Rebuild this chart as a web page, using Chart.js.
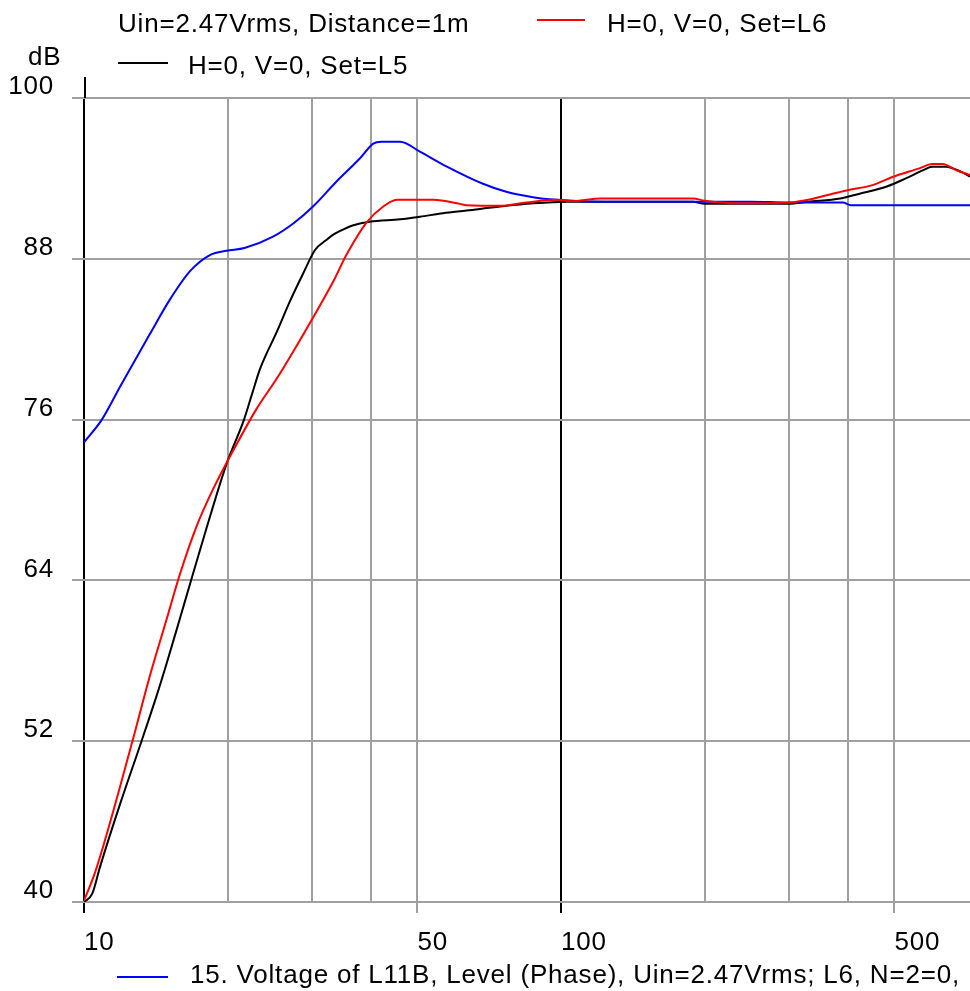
<!DOCTYPE html>
<html>
<head>
<meta charset="utf-8">
<script src="https://cdn.jsdelivr.net/npm/chart.js@4.4.0/dist/chart.umd.min.js"></script>
<style>
  html, body { margin: 0; padding: 0; background: #fff; overflow: hidden; }
  canvas { display: block; }
</style>
</head>
<body>
<canvas id="spl" width="970" height="991"></canvas>
<script>
// Set L6, H=0 V=0
const freqL6 = [10, 10.5, 11.0, 11.9, 12.7, 13.75, 14.9, 15.9, 17.2, 18.7, 20.2, 23.0, 25.4, 27.9, 30.2, 33.3, 35.5, 39.1, 42.4, 45.3, 54, 61.4, 63.4, 74.5, 84.6, 98, 106, 121, 189, 200, 240, 302, 330, 366, 397, 450, 495, 564, 600, 630, 675, 720];
const levelL6 = [40.1, 42.0, 44.3, 48.6, 52.3, 56.9, 61.1, 64.5, 68.0, 70.9, 73.2, 76.8, 79.1, 81.5, 83.6, 86.3, 88.3, 90.7, 91.9, 92.4, 92.4, 92.1, 92.0, 91.95, 92.2, 92.4, 92.3, 92.5, 92.5, 92.34, 92.14, 92.2, 92.4, 92.8, 93.1, 93.5, 94.1, 94.75, 95.07, 95.07, 94.6, 94.25];

// Set L5, H=0 V=0
const freqL5 = [10, 10.4, 10.8, 11.9, 13.2, 14.2, 14.9, 15.9, 16.8, 18.1, 19.9, 21.6, 22.5, 23.4, 25.4, 27.0, 28.8, 30.5, 32.2, 33.3, 35, 36.7, 39.7, 46, 50.6, 56.6, 63.4, 74.5, 87.5, 102.7, 189, 200, 300, 330, 385, 421, 482, 528, 573, 600, 641, 689, 720];
const levelL5 = [40.0, 40.6, 42.6, 47.3, 52.0, 55.4, 57.8, 61.2, 64.1, 68.0, 72.7, 75.9, 77.9, 79.8, 82.6, 84.8, 86.9, 88.66, 89.4, 89.8, 90.2, 90.5, 90.77, 90.95, 91.14, 91.4, 91.6, 91.9, 92.14, 92.26, 92.26, 92.1, 92.1, 92.26, 92.5, 92.84, 93.4, 94.0, 94.6, 94.87, 94.87, 94.5, 94.13];

// 15. Voltage of L11B
const freqL11B = [10, 10.9, 11.9, 13.75, 15.1, 16.7, 18.4, 19.9, 21.7, 24.9, 27.5, 30.2, 33.8, 37.9, 40.4, 42, 46, 50.6, 57.5, 68.6, 76.8, 87.3, 98, 110, 146, 250, 300, 390, 405, 720];
const levelL11B = [74.3, 76.0, 78.45, 82.4, 84.9, 87.1, 88.3, 88.6, 88.8, 89.65, 90.65, 91.9, 93.75, 95.5, 96.6, 96.74, 96.74, 96.0, 94.9, 93.6, 93.0, 92.6, 92.4, 92.3, 92.26, 92.26, 92.2, 92.2, 92.0, 92.0];

const yTicks = [40, 52, 64, 76, 88, 100];
const xGridFreqs = [10, 20, 30, 40, 50, 100, 200, 300, 400, 500];
const xLabelFreqs = [10, 50, 100, 500];

const headerText = 'Uin=2.47Vrms, Distance=1m';
const nameL6 = 'H=0, V=0, Set=L6';
const nameL5 = 'H=0, V=0, Set=L5';
const nameL11B = '15. Voltage of L11B, Level (Phase), Uin=2.47Vrms; L6, N=2=0, H=0, V=0';

const FAMILY = '"Liberation Sans", Arial, sans-serif';
const FONT = '26px ' + FAMILY;
const GRID_GRAY = '#a0a0a0';

function toPoints(xs, ys) {
  return xs.map((x, i) => ({ x: x, y: ys[i] }));
}

function isDecade(v) {
  return v === 10 || v === 100 || v === 1000;
}

// wider glyph spacing for all canvas text
const spacingPlugin = {
  id: 'spacing',
  beforeDraw(chart) {
    chart.ctx.letterSpacing = '0.8px';
  }
};

// captions, legend samples and the axis stub above the plot
const captionPlugin = {
  id: 'captions',
  afterDraw(chart) {
    const ctx = chart.ctx;
    const area = chart.chartArea;
    ctx.save();
    ctx.font = FONT;
    ctx.letterSpacing = '0.8px';
    ctx.fillStyle = '#000';
    ctx.textBaseline = 'alphabetic';
    ctx.textAlign = 'left';

    ctx.fillText(headerText, 118, 32);
    ctx.fillText('dB', 28, 65);

    const sample = (x0, x1, y, color) => {
      ctx.strokeStyle = color;
      ctx.lineWidth = 2;
      ctx.beginPath();
      ctx.moveTo(x0, y);
      ctx.lineTo(x1, y);
      ctx.stroke();
    };
    sample(537, 585, 20, '#ff0000');
    ctx.fillText(nameL6, 607, 32);
    sample(118, 168, 63, '#000000');
    ctx.fillText(nameL5, 188, 74);
    sample(117, 168, 977, '#0000ff');
    ctx.fillText(nameL11B, 190, 983);

    ctx.strokeStyle = '#000';
    ctx.lineWidth = 2;
    ctx.beginPath();
    ctx.moveTo(area.left + 1, area.top);
    ctx.lineTo(area.left + 1, area.top - 21);
    ctx.stroke();
    ctx.restore();
  }
};

const ctx = document.getElementById('spl').getContext('2d');
const chart = new Chart(ctx, {
  type: 'line',
  data: {
    datasets: [
      {
        label: nameL6,
        data: toPoints(freqL6, levelL6),
        borderColor: '#ff0000',
        borderWidth: 2,
        pointRadius: 0,
        cubicInterpolationMode: 'monotone',
        fill: false
      },
      {
        label: nameL11B,
        data: toPoints(freqL11B, levelL11B),
        borderColor: '#0000ff',
        borderWidth: 2,
        pointRadius: 0,
        cubicInterpolationMode: 'monotone',
        fill: false
      },
      {
        label: nameL5,
        data: toPoints(freqL5, levelL5),
        borderColor: '#000000',
        borderWidth: 2,
        pointRadius: 0,
        cubicInterpolationMode: 'monotone',
        fill: false
      }
    ]
  },
  options: {
    responsive: false,
    animation: false,
    layout: { padding: { top: 98, left: 0, right: 0, bottom: 0 } },
    plugins: {
      legend: { display: false },
      tooltip: { enabled: false }
    },
    scales: {
      x: {
        type: 'logarithmic',
        min: 10,
        max: 720,
        afterBuildTicks: (scale) => {
          scale.ticks = xGridFreqs.map(v => ({ value: v }));
        },
        afterFit: (scale) => { scale.height = 89; },
        border: { display: false },
        grid: {
          color: (c) => isDecade(c.tick.value) ? '#000' : GRID_GRAY,
          lineWidth: 2,
          tickLength: 11,
          tickColor: (c) => xLabelFreqs.includes(c.tick.value)
            ? (isDecade(c.tick.value) ? '#000' : GRID_GRAY)
            : 'rgba(0,0,0,0)'
        },
        ticks: {
          autoSkip: false,
          maxRotation: 0,
          align: 'start',
          padding: 14,
          color: '#000',
          font: { family: FAMILY, size: 26 },
          callback: (v) => xLabelFreqs.includes(v) ? String(v) : ''
        }
      },
      y: {
        min: 40,
        max: 100,
        afterBuildTicks: (scale) => {
          scale.ticks = yTicks.map(v => ({ value: v }));
        },
        afterFit: (scale) => { scale.width = 84; },
        border: { display: false },
        grid: {
          color: GRID_GRAY,
          lineWidth: 2,
          tickLength: 12,
          tickColor: GRID_GRAY
        },
        ticks: {
          padding: 18,
          labelOffset: -11,
          color: '#000',
          font: { family: FAMILY, size: 26 }
        }
      }
    }
  },
  plugins: [spacingPlugin, captionPlugin]
});
</script>
</body>
</html>
